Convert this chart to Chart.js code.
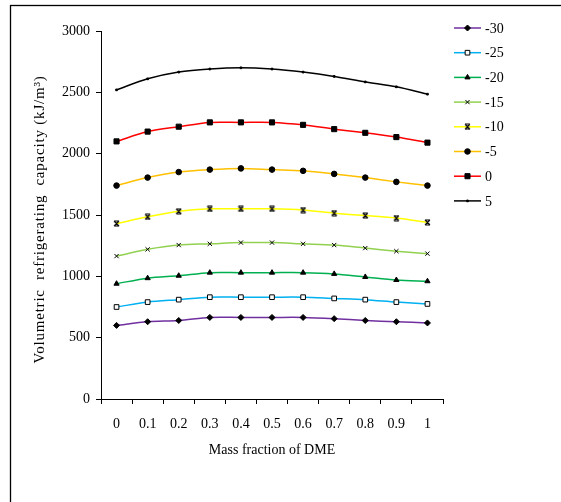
<!DOCTYPE html>
<html>
<head>
<meta charset="utf-8">
<script src="https://cdn.jsdelivr.net/npm/chart.js@4.4.1/dist/chart.umd.min.js"></script>
<style>
    html, body { margin: 0; padding: 0; background: #fff; }
    #wrap { width: 561px; height: 502px; }
</style>
</head>
<body>
<div id="wrap"><canvas id="capacityChart" width="561" height="502"></canvas></div>
<script>
// Массовая доля DME (ось X)
const fractions = ['0', '0.1', '0.2', '0.3', '0.4', '0.5', '0.6', '0.7', '0.8', '0.9', '1'];
// Температуры испарения, °C
const seriesNames = ['-30', '-25', '-20', '-15', '-10', '-5', '0', '5'];
// Объёмная холодопроизводительность, kJ/m3
const capM30 = [600, 630, 640, 665, 665, 665, 665, 655, 640, 630, 620];
const capM25 = [750, 790, 810, 830, 830, 830, 830, 820, 810, 790, 775];
const capM20 = [940, 985, 1005, 1030, 1030, 1030, 1030, 1020, 995, 970, 960];
const capM15 = [1165, 1220, 1255, 1265, 1275, 1275, 1265, 1255, 1230, 1205, 1185];
const capM10 = [1430, 1485, 1530, 1550, 1550, 1550, 1540, 1515, 1495, 1475, 1440];
const capM5 = [1740, 1805, 1850, 1870, 1880, 1870, 1860, 1835, 1805, 1770, 1740];
const cap0 = [2100, 2180, 2220, 2255, 2255, 2255, 2235, 2200, 2170, 2135, 2090];
const cap5 = [2520, 2610, 2665, 2690, 2700, 2690, 2665, 2630, 2585, 2545, 2485];
const yTicks = [0, 500, 1000, 1500, 2000, 2500, 3000];

const FONT = 'Liberation Serif, Times New Roman, serif';
const Y_TITLE = 'Volumetric  refrigerating  capacity (kJ/m³)';

// Маркер "песочные часы" для серии -10
function hourglassMarker() {
    const c = document.createElement('canvas');
    c.width = 7; c.height = 7;
    const g = c.getContext('2d');
    g.strokeStyle = '#000';
    g.lineWidth = 1.2;
    g.beginPath();
    g.moveTo(1, 1); g.lineTo(6, 6);
    g.moveTo(6, 1); g.lineTo(1, 6);
    g.moveTo(1, 1); g.lineTo(6, 1);
    g.moveTo(1, 6); g.lineTo(6, 6);
    g.stroke();
    return c;
}

function series(label, data, color, style, radius, fill) {
    return {
        label: label,
        data: data,
        borderColor: color,
        backgroundColor: color,
        borderWidth: 1.5,
        tension: 0.3,
        pointStyle: style,
        pointRadius: radius,
        pointHoverRadius: radius,
        pointBackgroundColor: fill || '#000',
        pointBorderColor: '#000',
        pointBorderWidth: 1
    };
}

const datasets = [
    series(seriesNames[0], capM30, '#7030A0', 'rectRot', 3),
    series(seriesNames[1], capM25, '#00B0F0', 'rect', 3.3, '#fff'),
    series(seriesNames[2], capM20, '#00B050', 'triangle', 3),
    series(seriesNames[3], capM15, '#92D050', 'crossRot', 3),
    series(seriesNames[4], capM10, '#FFFF00', hourglassMarker(), 3),
    series(seriesNames[5], capM5, '#FFC000', 'circle', 2.8),
    series(seriesNames[6], cap0, '#FF0000', 'rect', 3.6),
    series(seriesNames[7], cap5, '#000000', 'rect', 1.2)
];

// Белый фон и рамка
const framePlugin = {
    id: 'frame',
    beforeDraw(chart) {
        const ctx = chart.ctx;
        ctx.save();
        ctx.fillStyle = '#fff';
        ctx.fillRect(0, 0, chart.width, chart.height);
        ctx.strokeStyle = '#000';
        ctx.lineWidth = 1.3;
        ctx.strokeRect(10.5, 5.5, 700, 700);
        ctx.restore();
    }
};

// Подпись оси Y с разрядкой букв
const yTitlePlugin = {
    id: 'yTitle',
    afterDraw(chart) {
        const ctx = chart.ctx;
        ctx.save();
        ctx.translate(40, 219.5);
        ctx.rotate(-Math.PI / 2);
        ctx.font = '15px ' + FONT;
        if ('letterSpacing' in ctx) ctx.letterSpacing = '0.8px';
        ctx.fillStyle = '#000';
        ctx.textAlign = 'center';
        ctx.textBaseline = 'middle';
        ctx.fillText(Y_TITLE, 0, 0);
        ctx.restore();
    }
};

// Легенда справа: линия с маркером посередине
const sideLegend = {
    id: 'sideLegend',
    afterDraw(chart) {
        const ctx = chart.ctx;
        chart.data.datasets.forEach((ds, i) => {
            const y = 28 + i * 24.7;
            ctx.save();
            ctx.strokeStyle = ds.borderColor;
            ctx.lineWidth = ds.borderWidth;
            ctx.beginPath();
            ctx.moveTo(454, y);
            ctx.lineTo(481, y);
            ctx.stroke();
            ctx.fillStyle = ds.pointBackgroundColor;
            ctx.strokeStyle = ds.pointBorderColor;
            ctx.lineWidth = ds.pointBorderWidth;
            Chart.helpers.drawPoint(ctx, {
                pointStyle: ds.pointStyle,
                radius: ds.pointRadius,
                borderWidth: ds.pointBorderWidth,
                rotation: 0
            }, 467.5, y);
            ctx.fillStyle = '#000';
            ctx.font = '14px ' + FONT;
            ctx.textBaseline = 'middle';
            ctx.textAlign = 'left';
            ctx.fillText(ds.label, 485, y + 1);
            ctx.restore();
        });
    }
};

const ctx = document.getElementById('capacityChart').getContext('2d');
new Chart(ctx, {
    type: 'line',
    data: { labels: fractions, datasets: datasets },
    options: {
        responsive: false,
        animation: false,
        layout: { padding: { left: 0, right: 118, top: 31, bottom: 0 } },
        plugins: {
            legend: { display: false },
            tooltip: { enabled: false }
        },
        scales: {
            x: {
                offset: true,
                afterFit: s => { s.height = 103; },
                grid: { display: true, drawOnChartArea: false, offset: true, tickLength: 5, color: '#000' },
                border: { display: true, color: '#000', width: 1 },
                ticks: { color: '#000', padding: 12, maxRotation: 0, autoSkip: false, font: { family: FONT, size: 14 } },
                title: {
                    display: true,
                    text: 'Mass fraction of DME',
                    color: '#000',
                    font: { family: FONT, size: 14 },
                    padding: { top: 0, bottom: 43 }
                }
            },
            y: {
                min: 0,
                max: 3000,
                afterFit: s => { s.width = 101; },
                afterBuildTicks: s => { s.ticks = yTicks.map(v => ({ value: v })); },
                grid: { display: true, drawOnChartArea: false, tickLength: 5, color: '#000' },
                border: { display: true, color: '#000', width: 1 },
                ticks: {
                    color: '#000',
                    padding: 6,
                    font: { family: FONT, size: 14 },
                    callback: v => String(v)
                }
            }
        }
    },
    plugins: [framePlugin, yTitlePlugin, sideLegend]
});
</script>
</body>
</html>
